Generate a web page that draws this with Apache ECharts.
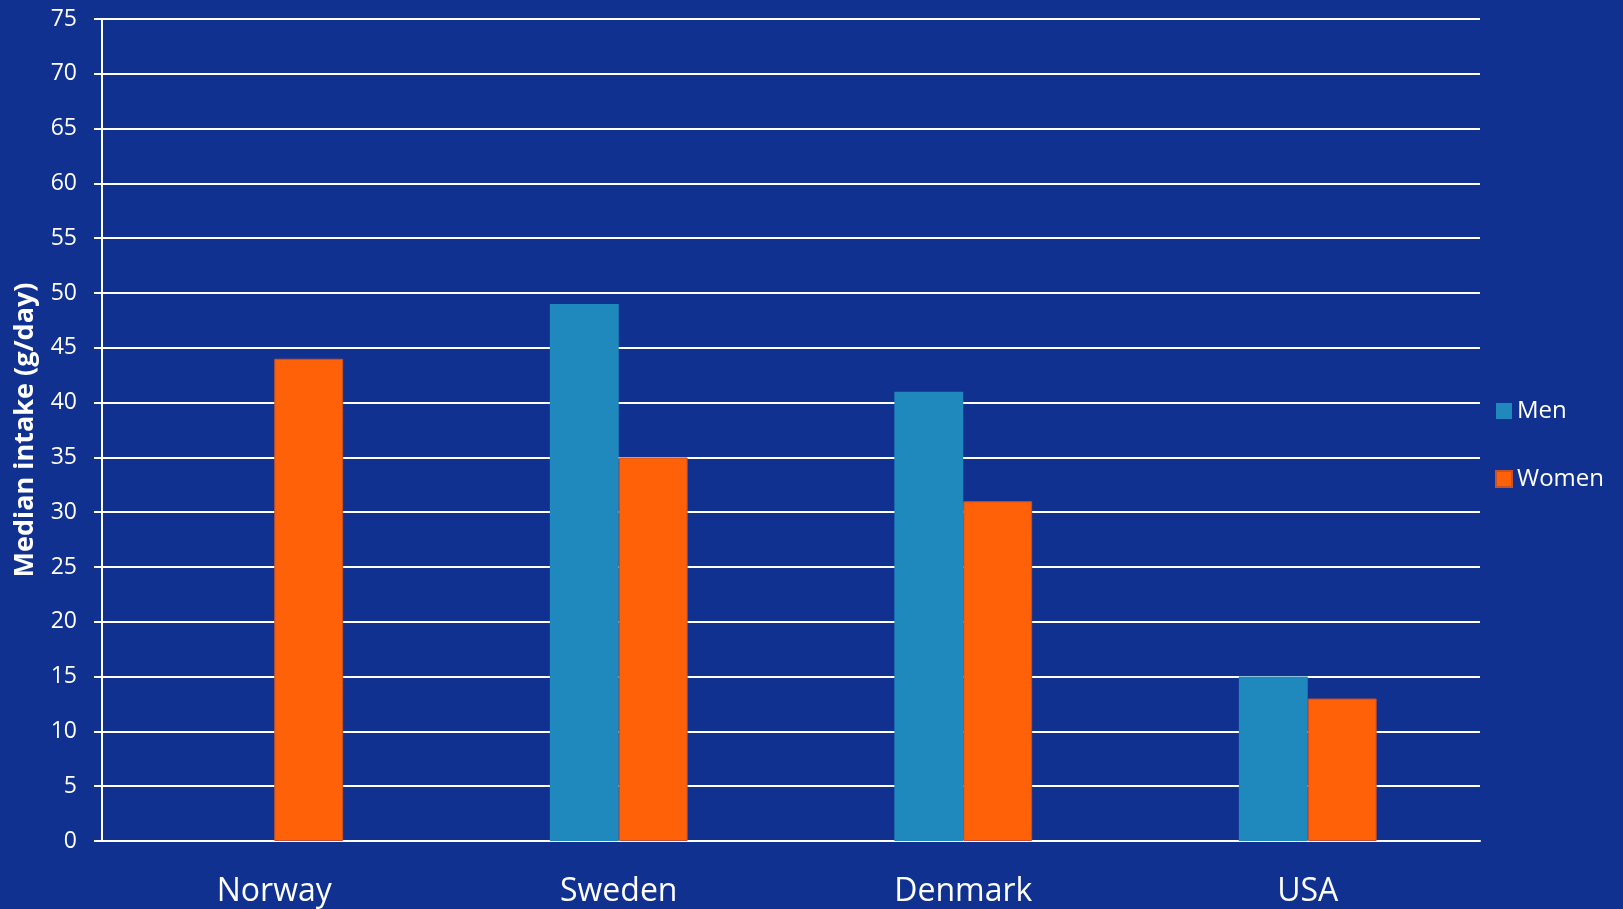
<!DOCTYPE html>
<html>
<head>
<meta charset="utf-8">
<script src="https://cdn.jsdelivr.net/npm/echarts@6/dist/echarts.min.js"></script>
<style>
html,body{margin:0;padding:0;background:#10318F;}
#chart{width:1623px;height:909px;}
</style>
</head>
<body>
<div id="chart"></div>
<script>
const categories = ['Norway', 'Sweden', 'Denmark', 'USA'];
const menValues = [null, 49, 41, 15];
const womenValues = [44, 35, 31, 13];
const yTicks = {min: 0, max: 75, interval: 5};

const FONT = '"Open Sans", sans-serif';
const chart = echarts.init(document.getElementById('chart'));
chart.setOption({
  backgroundColor: '#10318F',
  animation: false,
  textStyle: {fontFamily: FONT},
  grid: {left: 102, right: 143, top: 19, bottom: 68},
  legend: {
    orient: 'vertical',
    left: 1495,
    top: 399,
    padding: 0,
    itemWidth: 16,
    itemHeight: 16,
    itemGap: 44,
    icon: 'rect',
    textStyle: {color: '#ffffff', fontSize: 24, fontFamily: FONT, padding: [0, 0, 0, 0]},
    data: ['Men', 'Women']
  },
  xAxis: {
    type: 'category',
    data: categories,
    axisTick: {show: false},
    axisLine: {lineStyle: {color: '#ffffff', width: 2}},
    axisLabel: {color: '#ffffff', fontSize: 32, margin: 35, fontFamily: FONT}
  },
  yAxis: {
    type: 'value',
    min: yTicks.min, max: yTicks.max, interval: yTicks.interval,
    name: 'Median intake (g/day)',
    nameLocation: 'middle',
    nameGap: 63,
    nameTextStyle: {color: '#ffffff', fontSize: 27, fontWeight: 'bold', fontFamily: FONT},
    axisLine: {show: true, lineStyle: {color: '#ffffff', width: 2}},
    axisTick: {show: true, length: 8, lineStyle: {color: '#ffffff', width: 2}},
    axisLabel: {color: '#ffffff', fontSize: 23, margin: 25, fontFamily: FONT},
    splitLine: {lineStyle: {color: '#ffffff', width: 2}}
  },
  series: [
    {
      name: 'Men', type: 'bar', data: menValues,
      barGap: '0%', barCategoryGap: '60%',
      itemStyle: {color: '#1F88BD'}
    },
    {
      name: 'Women', type: 'bar', data: womenValues,
      barGap: '0%', barCategoryGap: '60%',
      itemStyle: {color: '#FF6109', borderColor: '#C8502A', borderWidth: 1}
    }
  ]
});
</script>
</body>
</html>
